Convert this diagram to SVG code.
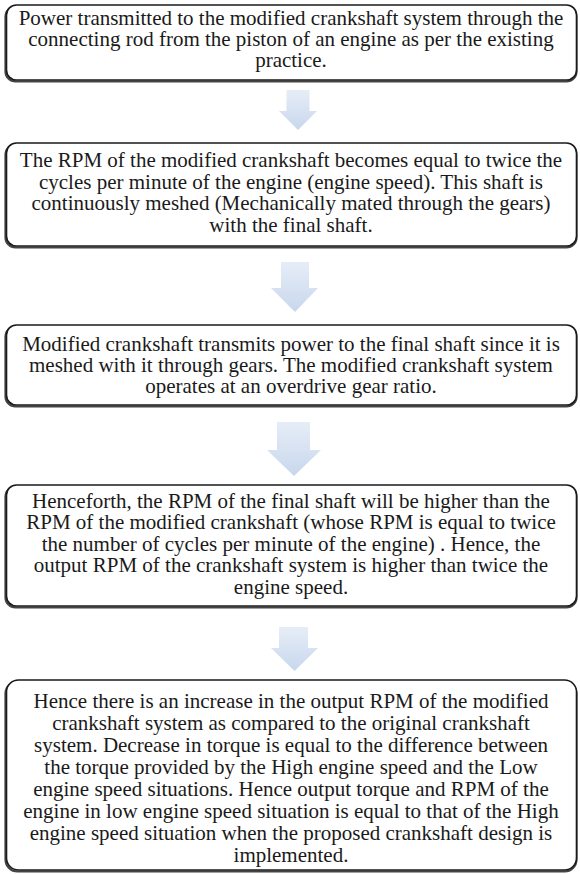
<svg xmlns="http://www.w3.org/2000/svg" width="580" height="874" viewBox="0 0 580 874">
<style>
.box{fill:#fff;stroke:#1a1a1a;stroke-width:1.6}
.sh{fill:none;stroke:#444;stroke-width:2.2}
.t{font-family:"Liberation Serif","Times New Roman",serif;font-size:21px;fill:#1a1a1a;text-anchor:middle}
.arr{fill:url(#g)}
</style>
<defs>
<linearGradient id="g" x1="0" y1="0" x2="0" y2="1">
<stop offset="0" stop-color="#e6edf7"/>
<stop offset="1" stop-color="#c8d7ed"/>
</linearGradient>
</defs>
<g id="connectors">
<polygon class="arr" points="286.5,90 309.5,90 309.5,111 317,111 298,130 279,111 286.5,111"/>
<polygon class="arr" points="281,262 309,262 309,288 318,288 295,312 271,288 281,288"/>
<polygon class="arr" points="277,422 310,422 310,450 321,450 294,476 267,450 277,450"/>
<polygon class="arr" points="279,627 308,627 308,648 318,648 294.5,671 271,648 279,648"/>
</g>
<g id="n1">
<rect class="sh" x="5.5" y="6.5" width="571" height="75" rx="10"/>
<rect class="box" x="6.5" y="5" width="570" height="75" rx="10"/>
<text class="t" x="291" y="25">Power transmitted to the modified crankshaft system through the</text>
<text class="t" x="291" y="46">connecting rod from the piston of an engine as per the existing</text>
<text class="t" x="291" y="67">practice.</text>
</g>
<g id="n2">
<rect class="sh" x="5.5" y="144.5" width="571" height="103" rx="10"/>
<rect class="box" x="6.5" y="143" width="570" height="103" rx="10"/>
<text class="t" x="291" y="167">The RPM of the modified crankshaft becomes equal to twice the</text>
<text class="t" x="291" y="189">cycles per minute of the engine (engine speed). This shaft is</text>
<text class="t" x="291" y="210">continuously meshed (Mechanically mated through the gears)</text>
<text class="t" x="291" y="232">with the final shaft.</text>
</g>
<g id="n3">
<rect class="sh" x="5.5" y="326.5" width="571" height="80" rx="10"/>
<rect class="box" x="6.5" y="325" width="570" height="80" rx="10"/>
<text class="t" x="291" y="351">Modified crankshaft transmits power to the final shaft since it is</text>
<text class="t" x="291" y="372">meshed with it through gears. The modified crankshaft system</text>
<text class="t" x="291" y="393">operates at an overdrive gear ratio.</text>
</g>
<g id="n4">
<rect class="sh" x="5.5" y="486.5" width="571" height="121" rx="10"/>
<rect class="box" x="6.5" y="485" width="570" height="121" rx="10"/>
<text class="t" x="291" y="508">Henceforth, the RPM of the final shaft will be higher than the</text>
<text class="t" x="291" y="529">RPM of the modified crankshaft (whose RPM is equal to twice</text>
<text class="t" x="291" y="551">the number of cycles per minute of the engine) . Hence, the</text>
<text class="t" x="291" y="572">output RPM of the crankshaft system is higher than twice the</text>
<text class="t" x="291" y="594">engine speed.</text>
</g>
<g id="n5">
<rect class="sh" x="5.5" y="681.5" width="571" height="190" rx="12"/>
<rect class="box" x="6.5" y="680" width="570" height="190" rx="12"/>
<text class="t" x="291" y="708">Hence there is an increase in the output RPM of the modified</text>
<text class="t" x="291" y="730">crankshaft system as compared to the original crankshaft</text>
<text class="t" x="291" y="752">system. Decrease in torque is equal to the difference between</text>
<text class="t" x="291" y="774">the torque provided by the High engine speed and the Low</text>
<text class="t" x="291" y="796">engine speed situations. Hence output torque and RPM of the</text>
<text class="t" x="291" y="818">engine in low engine speed situation is equal to that of the High</text>
<text class="t" x="291" y="840">engine speed situation when the proposed crankshaft design is</text>
<text class="t" x="291" y="862">implemented.</text>
</g>
</svg>
